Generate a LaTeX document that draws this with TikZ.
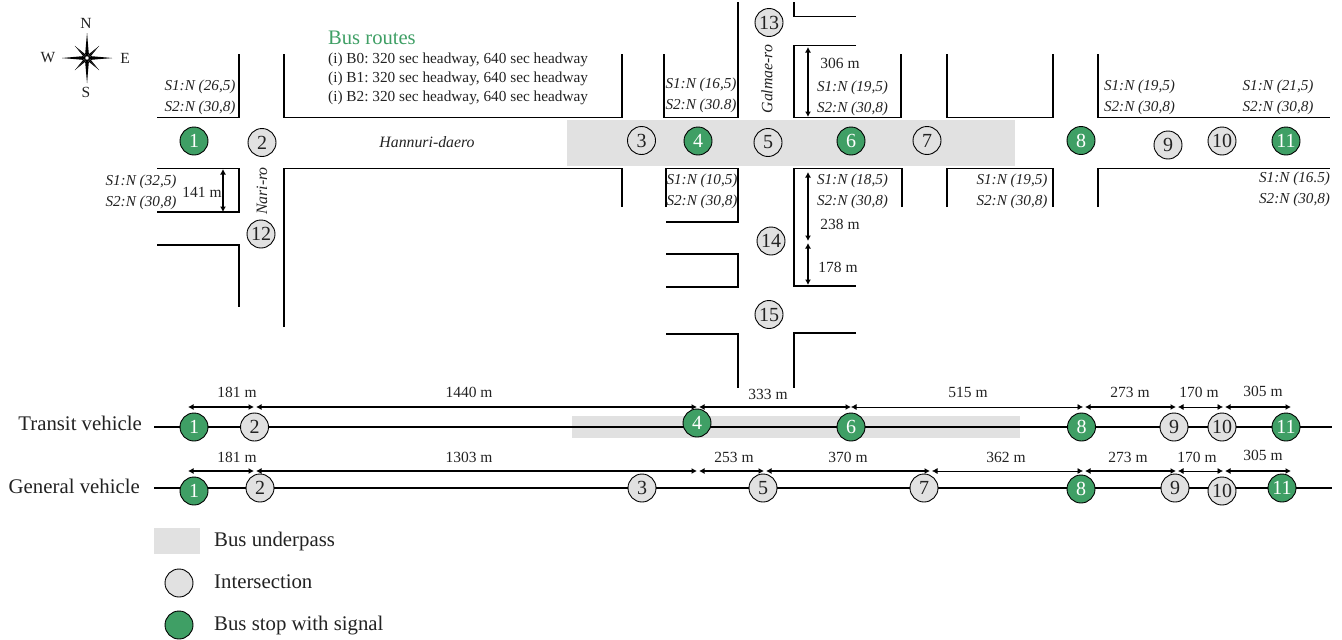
\documentclass[tikz,border=0pt]{standalone}
\usepackage{fontspec}
\setmainfont{Liberation Serif}
\usetikzlibrary{arrows.meta}
\definecolor{underpass}{HTML}{E1E1E1}
\definecolor{stopgreen}{HTML}{3F9F65}
\definecolor{ink}{HTML}{222222}
\frenchspacing
\begin{document}
\begin{tikzpicture}[x=1pt,y=-1pt,
    road/.style={line width=1.5pt,line join=miter},
    dim/.style={{Latex[length=5.5pt,width=6pt]}-{Latex[length=5.5pt,width=6pt]},line width=1.3pt},
    thindim/.style={dim,line width=0.7pt},
    inter/.style={circle,draw,line width=0.9pt,fill=underpass,minimum size=28pt,inner sep=0pt,text=ink,font=\fontsize{20}{20}\selectfont},
    stopsig/.style={inter,fill=stopgreen,text=white},
    lanes/.style={align=center,inner sep=0pt,text=ink,font=\fontsize{15.2}{21}\selectfont\itshape},
    small/.style={inner sep=0pt,text=ink,font=\fontsize{15.5}{15.5}\selectfont},
    route/.style={small,font=\fontsize{15.3}{15.3}\selectfont},
    streetname/.style={inner sep=0pt,text=ink,font=\fontsize{15.8}{15.8}\selectfont\itshape},
    big/.style={inner sep=0pt,text=ink,font=\fontsize{20.8}{20.8}\selectfont}]
  \useasboundingbox (0,0) rectangle (1342,640);
  % underpass band
  \fill[underpass] (567,120) rectangle (1015,166);
  \fill[underpass] (572,416) rectangle (1020,438);
  % roads, north side
  \draw[road] (157,117.5) -- (239,117.5) -- (239,54);
  \draw[road] (284,54) -- (284,117.5) -- (622,117.5) -- (622,54);
  \draw[road] (664,54) -- (664,117.5) -- (738,117.5) -- (738,2);
  \draw[road] (794,2) -- (794,16.5) -- (856,16.5);
  \draw[road] (856,45.5) -- (794,45.5) -- (794,117.5) -- (901,117.5) -- (901,54);
  \draw[road] (947,54) -- (947,117.5) -- (1053,117.5) -- (1053,54);
  \draw[road] (1098,54) -- (1098,117.5) -- (1330,117.5);
  % roads, south side
  \draw[road] (157,168.5) -- (239,168.5) -- (239,212) -- (157,212);
  \draw[road] (157,245) -- (239,245) -- (239,307);
  \draw[road] (284,327) -- (284,168.5) -- (622,168.5) -- (622,207);
  \draw[road] (666,207) -- (666,168.5) -- (738,168.5) -- (738,222) -- (666,222);
  \draw[road] (666,254) -- (738,254) -- (738,287) -- (666,287);
  \draw[road] (666,334) -- (738,334) -- (738,388);
  \draw[road] (902,207) -- (902,168.5) -- (794,168.5) -- (794,286) -- (856,286);
  \draw[road] (856,333) -- (794,333) -- (794,388);
  \draw[road] (947,207) -- (947,168.5) -- (1053,168.5) -- (1053,207);
  \draw[road] (1098,207) -- (1098,168.5) -- (1330,168.5);
  % compass
  \foreach \a in {0,90,180,270} {
    \fill[black] (87,58) ++(\a:25) -- ++(\a+175:21) -- (87,58) -- cycle;
    \fill[black] (87,58) ++(\a:25) -- ++(\a+185:21) -- (87,58) -- cycle;
    \fill[black] (87,58) ++(\a+45:17) -- ++(\a+45+174:13) -- (87,58) -- cycle;
    \fill[black] (87,58) ++(\a+45:17) -- ++(\a+45+186:13) -- (87,58) -- cycle;
  }
  \fill[white] (87,58) circle (1.8pt);
  \node[small] (north) at (86,23) {N};
  \node[small] (south) at (86,92) {S};
  \node[small] (west) at (48,58) {W};
  \node[small] (east) at (125,58) {E};
  % bus routes
  \node[inner sep=0pt,anchor=west,text=stopgreen,font=\fontsize{20.6}{20.6}\selectfont] (routes) at (328,38) {Bus routes};
  \foreach \r/\py in {B0/59.5,B1/78.5,B2/97.5}
    \node[route,anchor=west] (route\r) at (328,\py) {(i) \r: 320 sec headway, 640 sec headway};
  % street names
  \node[streetname] (hannuri) at (427,142) {Hannuri-daero};
  \node[streetname,rotate=90] (nari) at (262,191) {Nari-ro};
  \node[streetname,rotate=90] (galmae) at (767,79) {Galmae-ro};
  % lane labels
  \foreach \px/\py/\sa/\sb [count=\i] in {200/97.5/{(26,5)}/{(30,8)},141/192.5/{(32,5)}/{(30,8)},
      701/95.5/{(16,5)}/{(30.8)},852.5/98.5/{(19,5)}/{(30,8)},702/191.5/{(10,5)}/{(30,8)},
      852.5/191.5/{(18,5)}/{(30,8)},1012/191.5/{(19,5)}/{(30,8)},1139.5/97.5/{(19,5)}/{(30,8)},
      1278/97.5/{(21,5)}/{(30,8)},1294.5/189.5/{(16.5)}/{(30,8)}}
    \node[lanes] (lanes\i) at (\px,\py) {S1:N \sa\\S2:N \sb};
  % link lengths on the plan
  \draw[dim] (223,169) -- (223,212);
  \node[small] (len141) at (202,192) {141 m};
  \draw[dim] (808,47) -- (808,117);
  \node[small] (len306) at (840,63) {306 m};
  \draw[dim] (808,172) -- (808,241);
  \node[small] (len238) at (840,224) {238 m};
  \draw[dim] (808,243) -- (808,285);
  \node[small] (len178) at (838,267) {178 m};
  % intersections on the plan
  \foreach \n/\px/\py in {2/262/142.5,12/261/234,3/641.5/140.5,5/768/142.5,7/927/140.5,
      9/1168/145,10/1222/141,13/769/22.5,14/771/241,15/769/314.5}
    \node[inter] (plan\n) at (\px,\py) {\n};
  \foreach \n/\px/\py in {1/194/141,4/698/141,6/851/141,8/1081/140.5,11/1286/141}
    \node[stopsig] (plan\n) at (\px,\py) {\n};
  % transit vehicle row
  \node[big,anchor=base east] (transit) at (142,430) {Transit vehicle};
  \coordinate (tstart) at (154,427);
  \coordinate (tend) at (1332,427);
  \draw[road] (tstart) -- (tend);
  \foreach \n/\px/\py in {2/254.5/427,9/1174/427,10/1222/427}
    \node[inter] (t\n) at (\px,\py) {\n};
  \foreach \n/\px/\py in {1/194/427,4/697/423,6/851/427,8/1081.5/427,11/1286/427}
    \node[stopsig] (t\n) at (\px,\py) {\n};
  \foreach \xa/\xb/\st/\lx/\ly/\txt [count=\i] in {188/254/dim/237/392/181,256/697/dim/469/392/1440,
      699/851/dim/768/394/333,851/1083/thindim/968/392/515,1085/1176/dim/1130/392/273,
      1178/1223/thindim/1199/392/170,1225/1291/dim/1263/391/305} {
    \draw[\st] (\xa,407) -- (\xb,407);
    \node[small] (tlen\i) at (\lx,\ly) {\txt{} m};
  }
  % general vehicle row
  \node[big,anchor=base east] (general) at (140,493) {General vehicle};
  \coordinate (gstart) at (154,488);
  \coordinate (gend) at (1332,488);
  \draw[road] (gstart) -- (gend);
  \foreach \n/\px/\py in {2/260/488,3/642/488,5/763/488,7/924/488,9/1175/488,10/1222/491}
    \node[inter] (g\n) at (\px,\py) {\n};
  \foreach \n/\px/\py in {1/194/491,8/1081/489,11/1282/488}
    \node[stopsig] (g\n) at (\px,\py) {\n};
  \foreach \xa/\xb/\st/\lx/\ly/\txt [count=\i] in {188/254/dim/237/457/181,256/697/dim/469/457/1303,
      699/764/dim/734/457/253,766/930/dim/848/457/370,932/1083/thindim/1006/457/362,
      1085/1176/dim/1128/457/273,1178/1223/thindim/1197/457/170,1225/1291/dim/1263/455/305} {
    \draw[\st] (\xa,471) -- (\xb,471);
    \node[small] (glen\i) at (\lx,\ly) {\txt{} m};
  }
  % legend
  \fill[underpass] (154,528) rectangle (200,554);
  \node[big,anchor=base west] (keyband) at (214,546) {Bus underpass};
  \node[inter] (keycircle) at (179,583) {};
  \node[big,anchor=base west] (keyinter) at (214,588) {Intersection};
  \node[stopsig] (keygreen) at (179,625) {};
  \node[big,anchor=base west] (keystop) at (214,630) {Bus stop with signal};
\end{tikzpicture}
\end{document}
